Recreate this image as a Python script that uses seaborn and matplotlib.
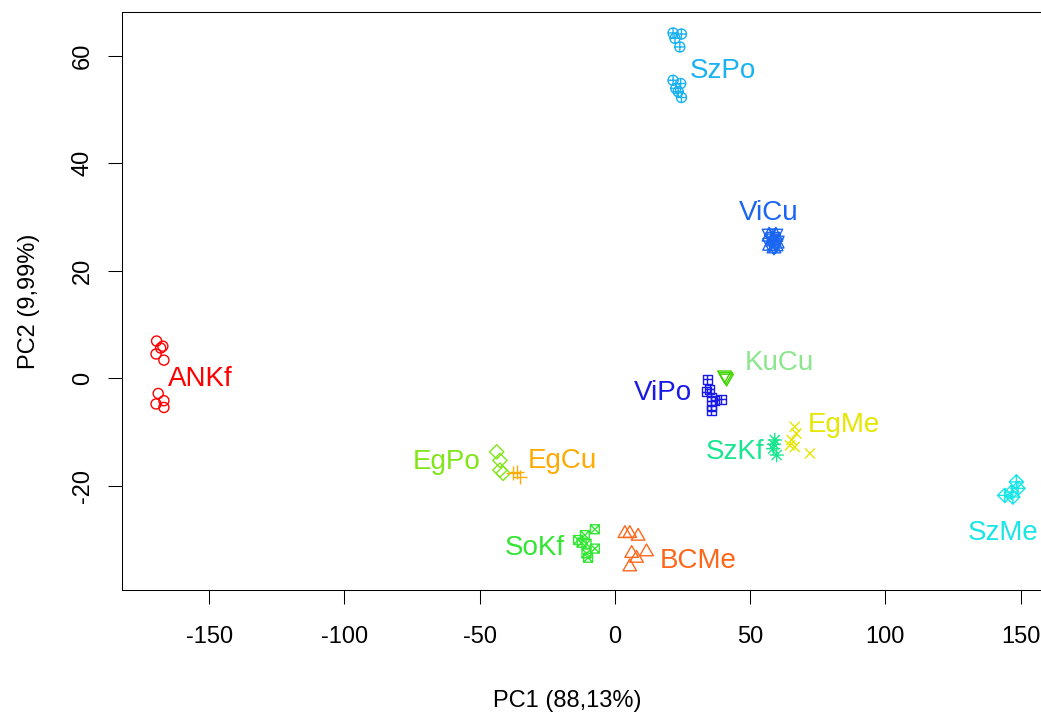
import matplotlib
matplotlib.use("Agg")
import matplotlib.pyplot as plt
from matplotlib.path import Path
import pandas as pd
import seaborn as sns

# ---- PCA scores per group (PC1, PC2) ----
ankf_pc1 = [-169.4, -167.1, -167.9, -169.6, -166.7, -168.8, -169.6, -166.7, -166.7]
ankf_pc2 = [6.9, 5.95, 5.6, 4.5, 3.35, -2.85, -4.8, -4.2, -5.45]

szpo_pc1 = [21.5, 24.6, 22.2, 24.0, 21.5, 24.3, 22.5, 23.4, 24.6]
szpo_pc2 = [64.2, 64.0, 63.2, 61.6, 55.4, 54.8, 53.9, 53.3, 52.2]

vicu_pc1 = [57.0, 59.5, 58.2, 60.0, 57.2, 58.8, 58.4, 59.6]
vicu_pc2 = [26.6, 26.6, 25.7, 25.3, 24.9, 24.4, 26.0, 24.8]

kucu_pc1 = [40.5, 41.0, 41.3]
kucu_pc2 = [0.6, 0.3, 0.0]

vipo_pc1 = [34.1, 33.9, 35.1, 35.7, 39.4, 37.0, 35.7, 35.7]
vipo_pc2 = [-0.24, -2.55, -2.1, -3.5, -3.96, -4.1, -5.0, -6.1]

egme_pc1 = [66.5, 67.1, 65.3, 64.7, 66.5, 72.1]
egme_pc2 = [-9.06, -10.3, -11.5, -12.5, -12.8, -14.0]

szkf_pc1 = [59.1, 58.5, 59.8, 58.8]
szkf_pc2 = [-11.5, -13.1, -14.3, -12.3]

egpo_pc1 = [-43.7, -42.5, -42.5, -41.3]
egpo_pc2 = [-13.7, -15.3, -17.1, -17.7]

egcu_pc1 = [-37.6, -36.3, -35.1]
egcu_pc2 = [-17.7, -17.4, -18.4]

sokf_pc1 = [-7.4, -11.1, -13.6, -10.5, -7.4, -10.5, -9.9, -12.3]
sokf_pc2 = [-28.1, -29.2, -30.1, -30.8, -31.7, -32.6, -33.4, -30.6]

bcme_pc1 = [3.7, 5.5, 8.6, 6.2, 11.7, 8.0, 5.5]
bcme_pc2 = [-28.9, -28.9, -29.4, -32.6, -32.3, -33.5, -35.1]

szme_pc1 = [148.4, 149.0, 146.6, 144.1, 147.1]
szme_pc2 = [-19.3, -20.5, -21.2, -21.8, -22.1]

groups = ["ANKf", "SzPo", "ViCu", "KuCu", "ViPo", "EgMe",
          "SzKf", "EgPo", "EgCu", "SoKf", "BCMe", "SzMe"]
pc1 = [ankf_pc1, szpo_pc1, vicu_pc1, kucu_pc1, vipo_pc1, egme_pc1,
       szkf_pc1, egpo_pc1, egcu_pc1, sokf_pc1, bcme_pc1, szme_pc1]
pc2 = [ankf_pc2, szpo_pc2, vicu_pc2, kucu_pc2, vipo_pc2, egme_pc2,
       szkf_pc2, egpo_pc2, egcu_pc2, sokf_pc2, bcme_pc2, szme_pc2]

df = pd.concat(
    [pd.DataFrame({"group": g, "PC1": a, "PC2": b}) for g, a, b in zip(groups, pc1, pc2)],
    ignore_index=True,
)

# ---- plotting symbols (R-style pch 1..12) ----
EXT = 1.6  # shared extent so every symbol is drawn on the same scale


def _seg(a, b):
    return [a, b], [Path.MOVETO, Path.LINETO]


def _poly(pts):
    return list(pts) + [pts[0]], [Path.MOVETO] + [Path.LINETO] * (len(pts) - 1) + [Path.CLOSEPOLY]


def _circle(r=1.0):
    c = Path.circle((0, 0), r)
    return list(map(tuple, c.vertices)), list(c.codes)


def symbol(*parts):
    verts, codes = [(EXT, 0.0)], [Path.MOVETO]
    for v, c in parts:
        verts += v
        codes += c
    return Path(verts, codes)


SQ = 0.886
R2 = 1.414
TR, TY, TX = 1.555, 0.778, 1.347
sq_pts = [(-SQ, -SQ), (SQ, -SQ), (SQ, SQ), (-SQ, SQ)]
dm_pts = [(0, R2), (R2, 0), (0, -R2), (-R2, 0)]

pch = {
    "ANKf": symbol(_circle()),                                            # pch 1
    "BCMe": symbol(_poly([(0, TR), (TX, -TY), (-TX, -TY)])),             # pch 2
    "EgCu": symbol(_seg((-R2, 0), (R2, 0)), _seg((0, -R2), (0, R2))),    # pch 3
    "EgMe": symbol(_seg((-1, -1), (1, 1)), _seg((-1, 1), (1, -1))),      # pch 4
    "EgPo": symbol(_poly(dm_pts)),                                        # pch 5
    "KuCu": symbol(_poly([(0, -TR), (TX, TY), (-TX, TY)])),              # pch 6
    "SoKf": symbol(_poly(sq_pts), _seg((-SQ, -SQ), (SQ, SQ)),
                   _seg((-SQ, SQ), (SQ, -SQ))),                           # pch 7
    "SzKf": symbol(_seg((-1, -1), (1, 1)), _seg((-1, 1), (1, -1)),
                   _seg((-R2, 0), (R2, 0)), _seg((0, -R2), (0, R2))),    # pch 8
    "SzMe": symbol(_poly(dm_pts), _seg((-R2, 0), (R2, 0)),
                   _seg((0, -R2), (0, R2))),                              # pch 9
    "SzPo": symbol(_circle(), _seg((-1, 0), (1, 0)), _seg((0, -1), (0, 1))),  # pch 10
    "ViCu": symbol(_poly([(0, -TR), (TX, 1.166), (-TX, 1.166)]),
                   _poly([(0, TR), (TX, -1.166), (-TX, -1.166)])),       # pch 11
    "ViPo": symbol(_poly(sq_pts), _seg((-SQ, 0), (SQ, 0)),
                   _seg((0, -SQ), (0, SQ))),                              # pch 12
}

point_colors = {
    "ANKf": "#FF0000", "SzPo": "#1AB2F2", "ViCu": "#1A66F2", "KuCu": "#40D400",
    "ViPo": "#1A1AE6", "EgMe": "#E6E600", "SzKf": "#1AE690", "EgPo": "#80E61A",
    "EgCu": "#FFAA00", "SoKf": "#33E633", "BCMe": "#FF661A", "SzMe": "#1AE6E6",
}
label_colors = dict(point_colors, KuCu="#8CE68C")

# label anchor (PC1, PC2) and horizontal alignment
label_pos = {
    "ANKf": (-165.2, -0.1, "left"), "SzPo": (27.7, 57.2, "left"),
    "ViCu": (56.9, 30.8, "center"), "KuCu": (48.0, 2.85, "left"),
    "ViPo": (28.5, -2.7, "right"), "EgMe": (71.3, -8.7, "left"),
    "SzKf": (55.4, -13.7, "right"), "EgPo": (-49.5, -15.6, "right"),
    "EgCu": (-32.2, -15.4, "left"), "SoKf": (-18.5, -31.6, "right"),
    "BCMe": (16.6, -34.0, "left"), "SzMe": (143.4, -28.8, "center"),
}

# ---- figure ----
sns.set_theme(style="white")
plt.rcParams["font.family"] = ["Liberation Sans", "DejaVu Sans"]
plt.rcParams["axes.unicode_minus"] = False

fig = plt.figure(figsize=(10.41, 7.17), dpi=100)
ax = fig.add_axes([121.7 / 1041, 127 / 717, (1051 - 121.7) / 1041, 578 / 717])

for g in groups:
    sub = df[df["group"] == g]
    c = point_colors[g]
    sns.scatterplot(data=sub, x="PC1", y="PC2", ax=ax, marker=pch[g], s=135,
                    color=c, facecolor="none", edgecolor=c, linewidth=1.0,
                    legend=False, zorder=3)

for g in groups:
    x, y, ha = label_pos[g]
    ax.text(x, y, g, color=label_colors[g], fontsize=20, ha=ha, va="center")

ax.set_xlim(-182.3, 161.2)
ax.set_ylim(-39.4, 68.1)
ax.set_xticks([-150, -100, -50, 0, 50, 100, 150])
ax.set_yticks([-20, 0, 20, 40, 60])
ax.tick_params(axis="both", direction="out", length=10, width=0.75,
               color="black", labelsize=17, labelcolor="black", pad=16,
               left=True, bottom=True)
ax.tick_params(axis="y", labelrotation=90, pad=10)
for lbl in ax.get_yticklabels():
    lbl.set_va("center")

for side in ["left", "bottom", "top", "right"]:
    ax.spines[side].set_visible(True)
    ax.spines[side].set_color("black")
    ax.spines[side].set_linewidth(0.75)

ax.set_xlabel("PC1 (88,13%)", fontsize=17, color="black")
ax.set_ylabel("PC2 (9,99%)", fontsize=17, color="black")
ax.xaxis.set_label_coords((567 - 121.7) / (1051 - 121.7), -0.173)
ax.yaxis.set_label_coords((40 - 121.7) / (1051 - 121.7), 0.5)

fig.savefig("out.png", dpi=100)
